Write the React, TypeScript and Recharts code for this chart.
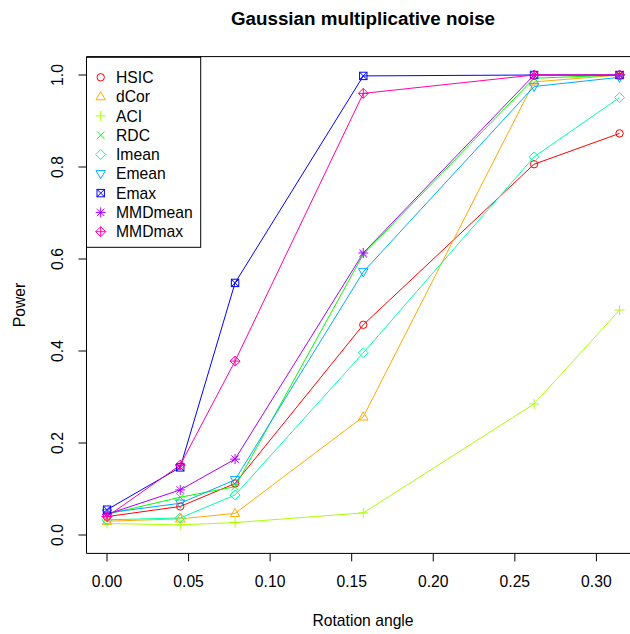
import React from 'react';
import { LineChart, Line, XAxis, YAxis, ReferenceArea } from 'recharts';

// rotation angles (radians) and power of each test
const angles = [0, 0.0449, 0.0785, 0.1571, 0.2618, 0.3142];
const hsic = [0.04, 0.062, 0.112, 0.457, 0.806, 0.873];
const dcor = [0.03, 0.035, 0.047, 0.257, 0.985, 1.0];
const aci = [0.025, 0.022, 0.027, 0.048, 0.285, 0.489];
const rdc = [0.045, 0.082, 0.105, 0.61, 0.993, 1.0];
const imean = [0.033, 0.037, 0.087, 0.396, 0.822, 0.951];
const emean = [0.048, 0.069, 0.12, 0.572, 0.975, 0.995];
const emax = [0.055, 0.147, 0.548, 0.998, 1.0, 1.0];
const mmdmean = [0.045, 0.098, 0.165, 0.613, 1.0, 1.0];
const mmdmax = [0.04, 0.152, 0.378, 0.96, 1.0, 1.0];

const xTicks = [0, 0.05, 0.1, 0.15, 0.2, 0.25, 0.3];
const yTicks = [0, 0.2, 0.4, 0.6, 0.8, 1.0];

const series = [
  { name: 'HSIC', values: hsic, color: '#FF0000', pch: 1 },
  { name: 'dCor', values: dcor, color: '#FFAA00', pch: 2 },
  { name: 'ACI', values: aci, color: '#AAFF00', pch: 3 },
  { name: 'RDC', values: rdc, color: '#00FF00', pch: 4 },
  { name: 'Imean', values: imean, color: '#00FFAA', pch: 5 },
  { name: 'Emean', values: emean, color: '#00AAFF', pch: 6 },
  { name: 'Emax', values: emax, color: '#0000FF', pch: 7 },
  { name: 'MMDmean', values: mmdmean, color: '#AA00FF', pch: 8 },
  { name: 'MMDmax', values: mmdmax, color: '#FF00AA', pch: 9 },
];

const rows = angles.map((a, i) => {
  const row: Record<string, number> = { angle: a };
  series.forEach((s) => (row[s.name] = s.values[i]));
  return row;
});

const FONT = '"Liberation Sans", Arial, Helvetica, sans-serif';
const FS = 15.7;

// x range padded by 4% like base graphics
const xMin = -0.01257;
const xMax = 0.32673;
const yMin = -0.04;
const yMax = 1.04;

// base-R style plotting symbols
function Marker({ pch, cx, cy, color }: { pch: number; cx: number; cy: number; color: string }) {
  const p = { stroke: color, strokeWidth: 1, fill: 'none' };
  const r = 3.7;
  const d = 5;
  const plus = <path d={`M${cx - d},${cy}H${cx + d}M${cx},${cy - d}V${cy + d}`} {...p} />;
  const cross = <path d={`M${cx - r},${cy - r}L${cx + r},${cy + r}M${cx - r},${cy + r}L${cx + r},${cy - r}`} {...p} />;
  const diamond = <path d={`M${cx},${cy - d}L${cx + d},${cy}L${cx},${cy + d}L${cx - d},${cy}Z`} {...p} />;
  switch (pch) {
    case 1:
      return <circle cx={cx} cy={cy} r={r} {...p} />;
    case 2:
      return <path d={`M${cx},${cy - 5}L${cx + 4.7},${cy + 3.2}L${cx - 4.7},${cy + 3.2}Z`} {...p} />;
    case 3:
      return plus;
    case 4:
      return cross;
    case 5:
      return diamond;
    case 6:
      return <path d={`M${cx},${cy + 5}L${cx + 4.7},${cy - 3.2}L${cx - 4.7},${cy - 3.2}Z`} {...p} />;
    case 7:
      return (
        <g>
          <rect x={cx - r} y={cy - r} width={2 * r} height={2 * r} {...p} />
          {cross}
        </g>
      );
    case 8:
      return (
        <g>
          {plus}
          {cross}
        </g>
      );
    default:
      return (
        <g>
          {diamond}
          {plus}
        </g>
      );
  }
}

const YTick = (props: any) => {
  const { x, y, payload } = props;
  return (
    <text
      x={x}
      y={y}
      transform={`rotate(-90 ${x} ${y})`}
      textAnchor="middle"
      fontSize={FS}
      fontFamily={FONT}
      fill="#000"
    >
      {payload.value.toFixed(1)}
    </text>
  );
};

const XTick = (props: any) => {
  const { x, y, payload } = props;
  return (
    <text x={x} y={y} textAnchor="middle" fontSize={FS} fontFamily={FONT} fill="#000">
      {payload.value.toFixed(2)}
    </text>
  );
};

export default function App() {
  return (
    <div style={{ position: 'absolute', left: 0, top: 0, width: 630, height: 634, overflow: 'hidden', background: '#fff' }}>
      <LineChart width={640} height={634} data={rows} margin={{ top: 56.6, right: 0, bottom: 50.6, left: 0 }}>
        <ReferenceArea x1={xMin} x2={xMax} y1={yMin} y2={yMax} fill="none" stroke="#000" strokeWidth={1} ifOverflow="visible" />
        <XAxis
          type="number"
          dataKey="angle"
          domain={[xMin, xMax]}
          ticks={xTicks}
          allowDataOverflow
          height={30}
          axisLine={false}
          stroke="#000"
          tickSize={8}
          tickMargin={26}
          tick={<XTick />}
        />
        <YAxis
          type="number"
          domain={[yMin, yMax]}
          ticks={yTicks}
          allowDataOverflow
          width={86.5}
          axisLine={false}
          stroke="#000"
          tickSize={8}
          tickMargin={15.9}
          tick={<YTick />}
        />
        {series.map((s) => (
          <Line
            key={s.name}
            dataKey={s.name}
            type="linear"
            stroke={s.color}
            strokeWidth={1}
            isAnimationActive={false}
            activeDot={false}
            dot={(d: any) => <Marker key={`${s.name}-${d.index}`} pch={s.pch} cx={d.cx} cy={d.cy} color={s.color} />}
          />
        ))}
      </LineChart>
      <svg width={630} height={634} style={{ position: 'absolute', left: 0, top: 0, pointerEvents: 'none' }}>
        <text x={363} y={24.7} textAnchor="middle" fontSize={18.8} fontWeight="bold" fontFamily={FONT} fill="#000">
          Gaussian multiplicative noise
        </text>
        <text x={363} y={625.6} textAnchor="middle" fontSize={FS} fontFamily={FONT} fill="#000">
          Rotation angle
        </text>
        <text x={24.6} y={305} transform="rotate(-90 24.6 305)" textAnchor="middle" fontSize={FS} fontFamily={FONT} fill="#000">
          Power
        </text>
        <rect x={86.5} y={57.3} width={114.2} height={190} fill="#fff" stroke="#000" strokeWidth={1} />
        {series.map((s, i) => (
          <g key={s.name}>
            <Marker pch={s.pch} cx={100.7} cy={77.3 + i * 19.3} color={s.color} />
            <text x={116} y={77.3 + i * 19.3 + 5.6} fontSize={FS} fontFamily={FONT} fill="#000">
              {s.name}
            </text>
          </g>
        ))}
      </svg>
    </div>
  );
}
